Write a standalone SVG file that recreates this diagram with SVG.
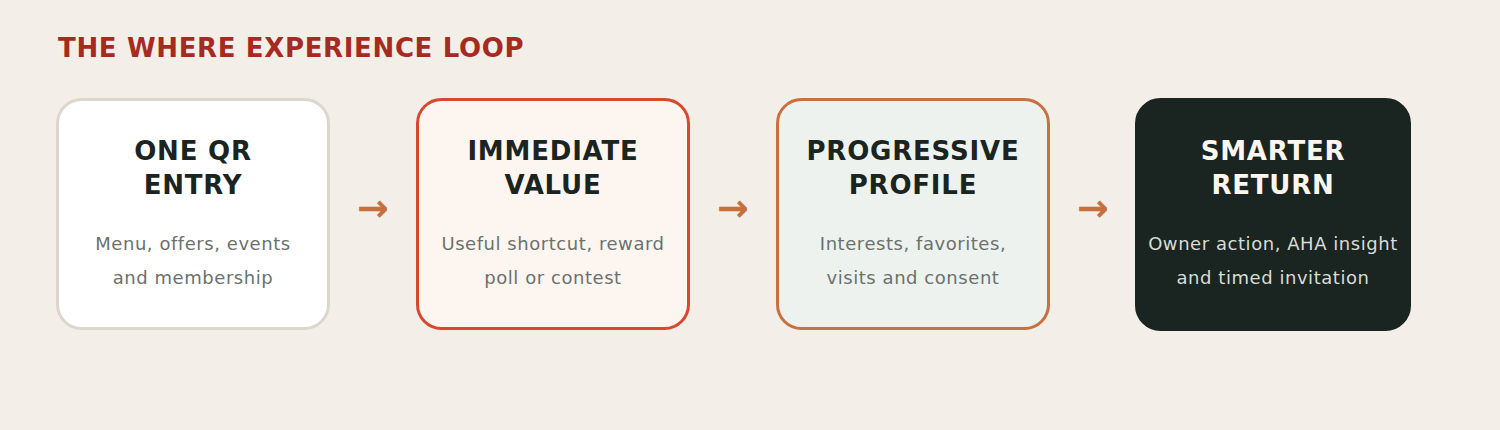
<svg xmlns="http://www.w3.org/2000/svg" width="1500" height="430" viewBox="0 0 1500 430">
<style>
.title{font-family:"DejaVu Sans",sans-serif;font-weight:bold;font-size:26px;fill:#a62b1f;letter-spacing:0.65px}
.box{stroke-width:3}
.h{font-family:"DejaVu Sans",sans-serif;font-weight:bold;font-size:26px;text-anchor:middle;fill:#1a2421;letter-spacing:0.8px}
.b{font-family:"DejaVu Sans",sans-serif;font-size:18px;text-anchor:middle;fill:#6b716d;letter-spacing:0.55px}
.arr{font-family:"DejaVu Sans",sans-serif;font-weight:bold;font-size:38px;text-anchor:middle;fill:#c8703d}
</style>
<rect width="1500" height="430" fill="#f3efe8"/>
<text class="title" x="58" y="57">THE WHERE EXPERIENCE LOOP</text>
<g id="connectors">
<text class="arr" x="373" y="221">→</text>
<text class="arr" x="733" y="221">→</text>
<text class="arr" x="1093" y="221">→</text>
</g>
<g id="node1">
<rect class="box" x="57.5" y="99.5" width="271" height="229" rx="24" fill="#ffffff" stroke="#dcd6cc"/>
<text class="h" x="193" y="160">ONE QR</text>
<text class="h" x="193" y="194">ENTRY</text>
<text class="b" x="193" y="250">Menu, offers, events</text>
<text class="b" x="193" y="284">and membership</text>
</g>
<g id="node2">
<rect class="box" x="417.5" y="99.5" width="271" height="229" rx="24" fill="#fdf6f0" stroke="#d9472e"/>
<text class="h" x="553" y="160">IMMEDIATE</text>
<text class="h" x="553" y="194">VALUE</text>
<text class="b" x="553" y="250">Useful shortcut, reward</text>
<text class="b" x="553" y="284">poll or contest</text>
</g>
<g id="node3">
<rect class="box" x="777.5" y="99.5" width="271" height="229" rx="24" fill="#edf2ee" stroke="#c87040"/>
<text class="h" x="913" y="160">PROGRESSIVE</text>
<text class="h" x="913" y="194">PROFILE</text>
<text class="b" x="913" y="250">Interests, favorites,</text>
<text class="b" x="913" y="284">visits and consent</text>
</g>
<g id="node4">
<rect class="box" x="1136.5" y="99.5" width="273" height="230" rx="24" fill="#1a2421" stroke="#1a2421"/>
<text class="h" x="1273" y="160" style="fill:#fdf6ee">SMARTER</text>
<text class="h" x="1273" y="194" style="fill:#fdf6ee">RETURN</text>
<text class="b" x="1273" y="250" style="fill:#d8dcd6">Owner action, AHA insight</text>
<text class="b" x="1273" y="284" style="fill:#d8dcd6">and timed invitation</text>
</g>
</svg>
